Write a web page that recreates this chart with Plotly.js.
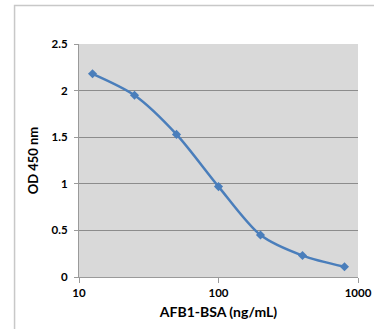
<!DOCTYPE html>
<html>
<head>
<meta charset="utf-8">
<script src="https://cdn.plot.ly/plotly-3.0.1.min.js"></script>
<style>html,body{margin:0;padding:0;background:#fff;}#chart{width:374px;height:329px;}</style>
</head>
<body>
<div id="chart"></div>
<script>
const concentrations = [12.5, 25, 50, 100, 200, 400, 800];
const odValues = [2.18, 1.95, 1.53, 0.97, 0.45, 0.23, 0.11];
const xTickVals = [10, 100, 1000];
const xTickText = ['10', '100', '1000'];
const yTickVals = [0, 0.5, 1, 1.5, 2, 2.5];
const yTickText = ['0', '0.5', '1', '1.5', '2', '2.5'];

const FONT = 'Lato, "Open Sans", "Liberation Sans", sans-serif';

const trace = {
  x: concentrations,
  y: odValues,
  type: 'scatter',
  mode: 'lines+markers',
  line: {color: '#4A7EBB', width: 2.5, shape: 'spline', smoothing: 0.8},
  marker: {symbol: 'diamond', size: 7, color: '#4A7EBB'},
  hoverinfo: 'skip'
};

const layout = {
  width: 374,
  height: 329,
  margin: {l: 79, r: 16, t: 44, b: 52},
  paper_bgcolor: '#ffffff',
  plot_bgcolor: '#d9d9d9',
  showlegend: false,
  font: {family: FONT, color: '#000'},
  xaxis: {
    type: 'log',
    range: [1, 3],
    tickvals: xTickVals,
    ticktext: xTickText,
    ticks: 'outside',
    ticklen: 5,
    tickcolor: '#9a9a9a',
    tickfont: {family: FONT, size: 11.5, color: '#000', weight: 'bold'},
    showgrid: false,
    showline: true,
    linecolor: '#9a9a9a',
    linewidth: 1,
    zeroline: false,
    title: {text: 'AFB1-BSA (ng/mL)', font: {family: FONT, size: 14, color: '#000', weight: 'bold'}, standoff: 9}
  },
  yaxis: {
    range: [0, 2.5],
    tickvals: yTickVals,
    ticktext: yTickText,
    ticks: 'outside',
    ticklen: 4,
    ticklabelstandoff: 4,
    tickcolor: '#9a9a9a',
    tickfont: {family: FONT, size: 11.5, color: '#000', weight: 'bold'},
    showgrid: true,
    gridcolor: '#8c8c8c',
    gridwidth: 1,
    showline: true,
    linecolor: '#9a9a9a',
    zeroline: false,
    title: {text: 'OD 450 nm', font: {family: FONT, size: 13, color: '#000', weight: 'bold'}, standoff: 10}
  },
  shapes: [
    {type: 'rect', xref: 'paper', yref: 'paper', x0: -0.231, x1: 1.2, y0: -0.4, y1: 1.165,
     line: {color: '#c8c8c8', width: 1.5}, fillcolor: 'rgba(0,0,0,0)', layer: 'below'}
  ]
};

Plotly.newPlot('chart', [trace], layout, {displayModeBar: false, staticPlot: true});
</script>
</body>
</html>
